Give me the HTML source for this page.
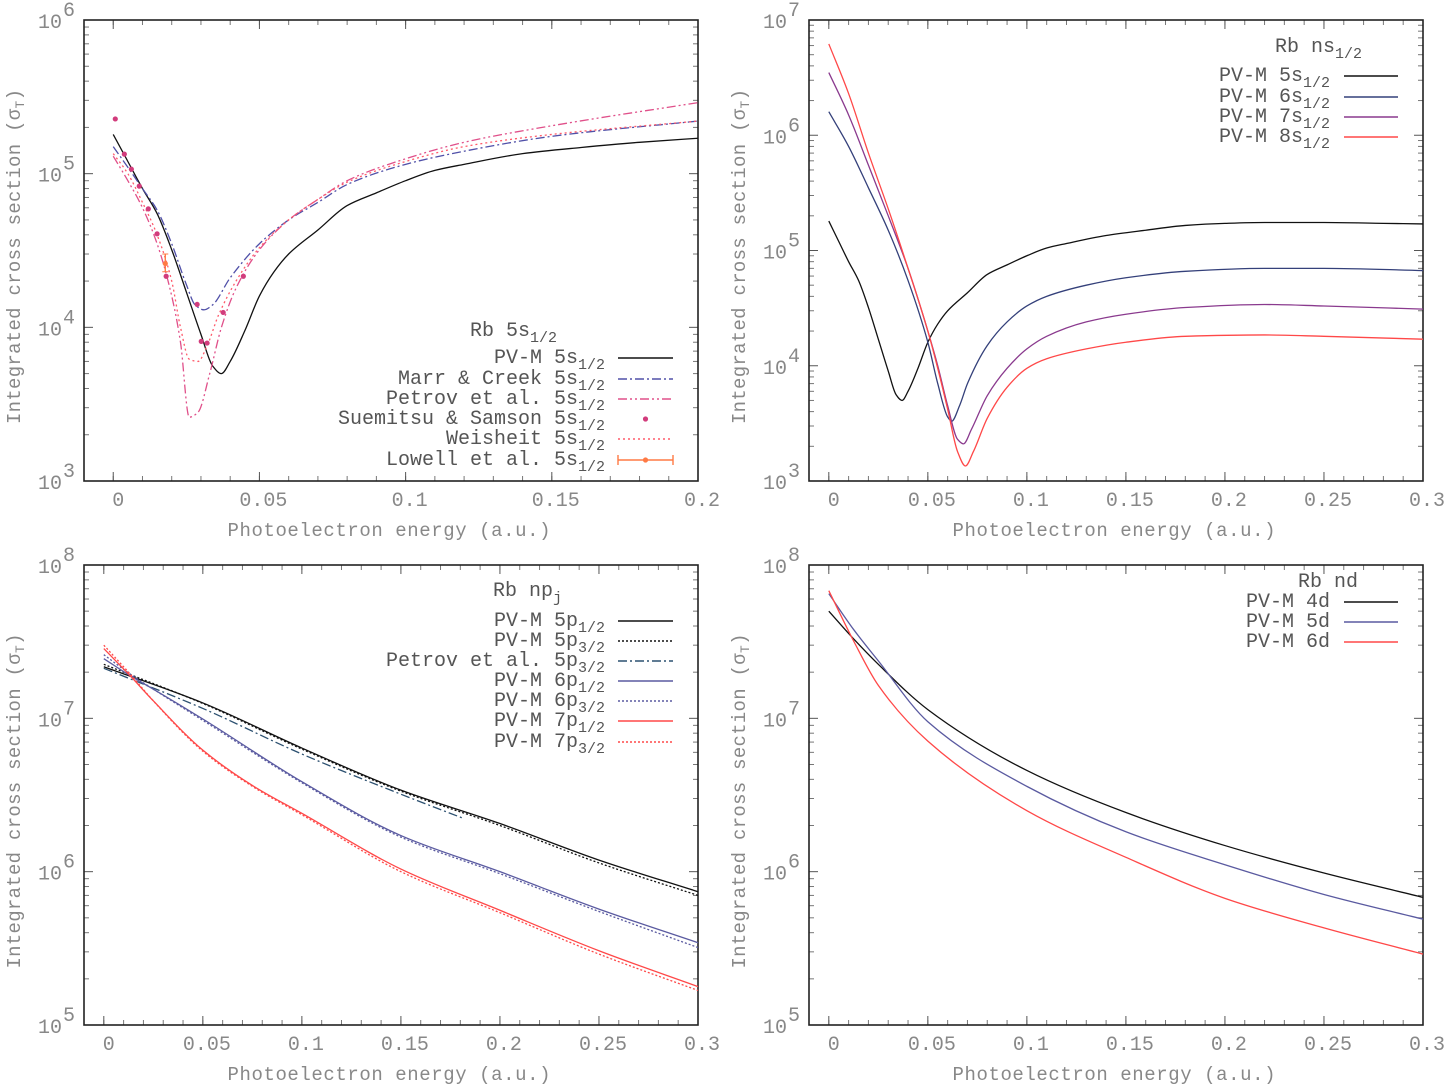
<!DOCTYPE html>
<html><head><meta charset="utf-8">
<style>
html,body{margin:0;padding:0;background:#fff;}
svg{display:block;font-family:"Liberation Mono",monospace;}
.tk{fill:#888;font-size:20px;}
.ttl{fill:#888;font-size:19px;}
.lg{fill:#555;font-size:20px;}
</style></head>
<body>
<svg id="fig" width="1452" height="1088" viewBox="0 0 1452 1088" xmlns="http://www.w3.org/2000/svg"></svg>
<script>
// ---------- Panel 1: Rb 5s1/2 ----------
const p1_pvm_x = [0,0.005,0.01,0.015,0.02,0.025,0.03,0.034,0.037,0.04,0.045,0.05,0.055,0.06,0.07,0.08,0.09,0.1,0.11,0.12,0.14,0.16,0.18,0.2];
const p1_pvm_y = [1.8e5,1.2e5,8e4,5.5e4,3.2e4,1.7e4,9e3,5.6e3,5e3,6e3,9.5e3,1.6e4,2.3e4,3e4,4.3e4,6.2e4,7.5e4,9e4,1.05e5,1.15e5,1.35e5,1.48e5,1.6e5,1.7e5];
const p1_marr_x = [0,0.005,0.01,0.015,0.02,0.025,0.028,0.031,0.034,0.04,0.05,0.06,0.07,0.08,0.1,0.12,0.15,0.2];
const p1_marr_y = [1.5e5,1.1e5,8e4,5.8e4,3.5e4,1.9e4,1.4e4,1.3e4,1.4e4,2.1e4,3.5e4,5e4,6.5e4,8.5e4,1.15e5,1.4e5,1.75e5,2.2e5];
const p1_petrov_x = [0,0.005,0.01,0.015,0.02,0.023,0.026,0.029,0.033,0.037,0.042,0.05,0.06,0.07,0.08,0.1,0.12,0.15,0.2];
const p1_petrov_y = [1.3e5,9e4,6e4,3.5e4,1.6e4,8e3,2.6e3,2.8e3,5e3,1e4,1.8e4,3.2e4,5e4,6.8e4,9e4,1.25e5,1.6e5,2.05e5,2.9e5];
const p1_weis_x = [0,0.005,0.01,0.015,0.02,0.023,0.026,0.029,0.032,0.036,0.042,0.05,0.06,0.07,0.08,0.1,0.12,0.15,0.2];
const p1_weis_y = [1.35e5,1e5,6.5e4,4e4,2e4,1e4,6.2e3,6e3,7.5e3,1.2e4,2e4,3.3e4,5e4,6.8e4,8.8e4,1.2e5,1.5e5,1.8e5,2.2e5];
const p1_sue_x = [0.0007,0.0038,0.0062,0.0089,0.012,0.015,0.0181,0.0287,0.0301,0.0321,0.0376,0.0445];
const p1_sue_y = [2.27e5,1.34e5,1.07e5,8.3e4,5.9e4,4.06e4,2.15e4,1.41e4,8.1e3,7.9e3,1.25e4,2.15e4];
const p1_low_x = [0.0178];
const p1_low_y = [2.6e4];
const p1_low_lo = [2.3e4];
const p1_low_hi = [3.0e4];
// ---------- Panel 2: Rb ns1/2 ----------
const p2_5s_x = [0,0.005,0.01,0.015,0.02,0.025,0.03,0.034,0.037,0.04,0.045,0.05,0.055,0.06,0.07,0.08,0.09,0.1,0.11,0.12,0.14,0.16,0.18,0.2,0.22,0.25,0.28,0.3];
const p2_5s_y = [1.8e5,1.2e5,8e4,5.5e4,3.2e4,1.7e4,9e3,5.6e3,5e3,6e3,9.5e3,1.6e4,2.3e4,3e4,4.3e4,6.2e4,7.5e4,9e4,1.05e5,1.15e5,1.35e5,1.5e5,1.65e5,1.72e5,1.75e5,1.75e5,1.72e5,1.7e5];
const p2_6s_x = [0,0.01,0.02,0.03,0.04,0.05,0.055,0.06,0.062,0.066,0.07,0.08,0.09,0.1,0.11,0.13,0.15,0.18,0.22,0.25,0.3];
const p2_6s_y = [1.6e6,8e5,3.5e5,1.5e5,5.5e4,1.6e4,7e3,3.6e3,3.3e3,4.5e3,7e3,1.5e4,2.4e4,3.3e4,4e4,5e4,5.8e4,6.6e4,7e4,7e4,6.7e4];
const p2_7s_x = [0,0.01,0.02,0.03,0.04,0.05,0.055,0.06,0.065,0.068,0.072,0.08,0.09,0.1,0.11,0.13,0.15,0.18,0.22,0.25,0.3];
const p2_7s_y = [3.5e6,1.5e6,5.5e5,2e5,7e4,2e4,1e4,4.5e3,2.3e3,2.1e3,2.8e3,5.5e3,9.5e3,1.4e4,1.8e4,2.4e4,2.8e4,3.2e4,3.4e4,3.3e4,3.1e4];
const p2_8s_x = [0,0.01,0.02,0.03,0.04,0.05,0.055,0.06,0.065,0.069,0.073,0.08,0.09,0.1,0.11,0.13,0.15,0.18,0.22,0.25,0.3];
const p2_8s_y = [6.2e6,2.3e6,7e5,2.3e5,7e4,2e4,9.5e3,4.2e3,1.8e3,1.35e3,1.8e3,3.5e3,6.5e3,9.5e3,1.15e4,1.4e4,1.6e4,1.8e4,1.85e4,1.8e4,1.7e4];
// ---------- Panel 3: Rb np_j ----------
const p3_x = [0,0.05,0.1,0.15,0.2,0.25,0.3];
const p3_5p1_y = [2.17e7,1.26e7,6.4e6,3.4e6,2.06e6,1.19e6,7.4e5];
const p3_5p3_y = [2.25e7,1.25e7,6.3e6,3.35e6,2.0e6,1.14e6,7.0e5];
const p3_petrov_x = [0,0.05,0.1,0.15,0.181];
const p3_petrov_y = [2.12e7,1.16e7,5.85e6,3.2e6,2.24e6];
const p3_6p_x = [0,0.0132,0.025,0.05,0.1,0.15,0.2,0.25,0.3];
const p3_6p1_y = [2.45e7,1.9e7,1.55e7,9.9e6,3.86e6,1.72e6,1.0e6,5.7e5,3.44e5];
const p3_6p3_y = [2.6e7,1.95e7,1.55e7,9.7e6,3.8e6,1.68e6,9.7e5,5.5e5,3.2e5];
const p3_7p_x = [0,0.0132,0.025,0.05,0.075,0.1,0.15,0.2,0.25,0.3];
const p3_7p1_y = [2.85e7,1.9e7,1.3e7,6.2e6,3.65e6,2.4e6,1.04e6,5.6e5,3.05e5,1.78e5];
const p3_7p3_y = [3.0e7,1.95e7,1.3e7,6.1e6,3.6e6,2.35e6,1.0e6,5.4e5,2.9e5,1.68e5];
// ---------- Panel 4: Rb nd ----------
const p4_x = [0,0.0125,0.025,0.05,0.1,0.15,0.2,0.25,0.3];
const p4_4d_y = [5e7,3.3e7,2.25e7,1.14e7,4.57e6,2.43e6,1.48e6,9.8e5,6.8e5];
const p4_5d_y = [6.5e7,3.8e7,2.37e7,9.5e6,3.6e6,1.82e6,1.11e6,7.1e5,4.9e5];
const p4_6d_y = [6.8e7,3.2e7,1.64e7,7.1e6,2.5e6,1.24e6,6.7e5,4.3e5,2.9e5];
const ticks_x1 = ["0","0.05","0.1","0.15","0.2"];
const ticks_x2 = ["0","0.05","0.1","0.15","0.2","0.25","0.3"];

const NS="http://www.w3.org/2000/svg";
const svg=document.getElementById('fig');
function mk(tag,attrs,parent){const e=document.createElementNS(NS,tag);for(const k in attrs)e.setAttribute(k,attrs[k]);(parent||svg).appendChild(e);return e;}

function makeAxes(L,R,T,B,xmin,xmax,emin,emax){
  return {
    sx:v=>L+(v-xmin)/(xmax-xmin)*(R-L),
    sy:v=>B-(Math.log10(v)-emin)/(emax-emin)*(B-T),
    L,R,T,B,xmin,xmax,emin,emax
  };
}
function smoothPath(pts){
  const n=pts.length;if(n<2)return '';
  const d=[],m=new Array(n);
  for(let i=0;i<n-1;i++)d.push((pts[i+1][1]-pts[i][1])/(pts[i+1][0]-pts[i][0]));
  m[0]=d[0];m[n-1]=d[n-2];
  for(let i=1;i<n-1;i++){
    if(d[i-1]*d[i]<=0)m[i]=0;
    else{const h0=pts[i][0]-pts[i-1][0],h1=pts[i+1][0]-pts[i][0];
      const w1=2*h1+h0,w2=h1+2*h0;m[i]=(w1+w2)/(w1/d[i-1]+w2/d[i]);}
  }
  let s='M'+pts[0][0].toFixed(2)+','+pts[0][1].toFixed(2);
  for(let i=0;i<n-1;i++){
    const h=pts[i+1][0]-pts[i][0];
    s+=' C'+(pts[i][0]+h/3).toFixed(2)+','+(pts[i][1]+m[i]*h/3).toFixed(2)+' '+(pts[i+1][0]-h/3).toFixed(2)+','+(pts[i+1][1]-m[i+1]*h/3).toFixed(2)+' '+pts[i+1][0].toFixed(2)+','+pts[i+1][1].toFixed(2);
  }
  return s;
}
function drawFrame(g,ax,xt,xstep){
  const {L,R,T,B}=ax;
  for(let e=ax.emin;e<=ax.emax;e++){
    const y=ax.sy(Math.pow(10,e));
    mk('line',{x1:L,x2:L+9,y1:y,y2:y,stroke:'#555','stroke-width':1},g);
    mk('line',{x1:R,x2:R-9,y1:y,y2:y,stroke:'#555','stroke-width':1},g);
    const t=mk('text',{x:L-22,y:y+8,'text-anchor':'end',class:'tk'},g);
    t.textContent='10';
    
    
    const s=mk('text',{x:L-21,y:y-4,class:'tk','font-size':'15'},g);
    s.textContent=String(e);
    
    
    if(e<ax.emax){for(let mm=2;mm<=9;mm++){const ym=ax.sy(mm*Math.pow(10,e));
      mk('line',{x1:L,x2:L+5,y1:ym,y2:ym,stroke:'#777','stroke-width':1},g);
      mk('line',{x1:R,x2:R-5,y1:ym,y2:ym,stroke:'#777','stroke-width':1},g);}}
  }
  for(let v=ax.xmin;v<=ax.xmax+1e-9;v+=xstep){const x=ax.sx(v);
    mk('line',{x1:x,x2:x,y1:B,y2:B-5,stroke:'#777','stroke-width':1},g);
    mk('line',{x1:x,x2:x,y1:T,y2:T+5,stroke:'#777','stroke-width':1},g);}
  xt.forEach(lbl=>{const v=parseFloat(lbl);const x=ax.sx(v);
    mk('line',{x1:x,x2:x,y1:B,y2:B-9,stroke:'#555','stroke-width':1},g);
    mk('line',{x1:x,x2:x,y1:T,y2:T+9,stroke:'#555','stroke-width':1},g);
    const t=mk('text',{x:x+(v===0?5:4),y:B+25,'text-anchor':'middle',class:'tk'},g);
    t.textContent=lbl;
    
    
  });
  mk('rect',{x:L,y:T,width:R-L,height:B-T,fill:'none',stroke:'#222','stroke-width':1.6},g);
  const xt2=mk('text',{x:(L+R)/2-2,y:B+55,'text-anchor':'middle',class:'ttl',textLength:323,lengthAdjust:'spacing'},g);
  xt2.textContent='Photoelectron energy (a.u.)';
  
  
  const yc=(T+B)/2;
  const yt=mk('text',{x:0,y:0,'text-anchor':'middle',class:'ttl',transform:`translate(${L-64},${yc+6}) rotate(-90)`},g);
  
  
  yt.setAttribute('textLength','335');
  yt.setAttribute('lengthAdjust','spacing');
  yt.innerHTML='Integrated cross section (σ<tspan font-size="13" dy="4">T</tspan><tspan dy="-4">)</tspan>';
}
function line(g,ax,xs,ys,color,dash,name,w){
  const pts=xs.map((x,i)=>[ax.sx(x),ax.sy(ys[i])]);
  const p=mk('path',{d:smoothPath(pts),fill:'none',stroke:color,'stroke-width':w||1.3},g);
  if(dash)p.setAttribute('stroke-dasharray',dash);
  
  
}
function legendTitle(g,xEnd,y,main,sub,name){
  const t=mk('text',{x:xEnd,y:y,'text-anchor':'end',class:'lg'},g);
  t.innerHTML=main+(sub?'<tspan font-size="15" dy="6">'+sub+'</tspan>':'');
  
  
}
function legendEntry(g,xEnd,y,main,sub,x1,x2,color,dash,name,kind){
  const t=mk('text',{x:xEnd,y:y+6,'text-anchor':'end',class:'lg'},g);
  t.innerHTML=main+(sub?'<tspan font-size="15" dy="6">'+sub+'</tspan>':'');
  
  
  if(kind==='dot'){const c=mk('circle',{cx:(x1+x2)/2,cy:y+1,r:2.6,fill:color},g);
    return;}
  const l=mk('line',{x1:x1,x2:x2,y1:y+1,y2:y+1,stroke:color,'stroke-width':1.4},g);
  if(dash)l.setAttribute('stroke-dasharray',dash);
  
  
  if(kind==='err'){mk('line',{x1:x1,x2:x1,y1:y-4,y2:y+6,stroke:color,'stroke-width':1.4},g);
    mk('line',{x1:x2,x2:x2,y1:y-4,y2:y+6,stroke:color,'stroke-width':1.4},g);
    mk('circle',{cx:(x1+x2)/2,cy:y+1,r:2.6,fill:color},g);}
}
const C={black:'#111',marr:'#5050a8',petrov:'#e0508a',sue:'#d23c7c',weis:'#ff5a6a',low:'#ff7a45',
  s6:'#34407a',s7:'#8a3a8e',red:'#ff4848',blue:'#5a5aa0',teal:'#2c5070'};

// Panel 1
(function(){
  const g=mk('g',{});
  const ax=makeAxes(84,698,20,481,-0.01,0.2,3,6);
  drawFrame(g,ax,ticks_x1,0.01);
  line(g,ax,p1_pvm_x,p1_pvm_y,C.black,null,'pvm-5s-line');
  line(g,ax,p1_marr_x,p1_marr_y,C.marr,'9,3,2,3','marr-creek-line');
  line(g,ax,p1_petrov_x,p1_petrov_y,C.petrov,'9,3,2,3,2,3','petrov-line');
  line(g,ax,p1_weis_x,p1_weis_y,C.weis,'2,3','weisheit-line');
  p1_sue_x.forEach((x,i)=>{const c=mk('circle',{cx:ax.sx(x),cy:ax.sy(p1_sue_y[i]),r:2.6,fill:C.sue},g);
    });
  p1_low_x.forEach((x,i)=>{const X=ax.sx(x);
    const l=mk('line',{x1:X,x2:X,y1:ax.sy(p1_low_hi[i]),y2:ax.sy(p1_low_lo[i]),stroke:C.low,'stroke-width':1.4},g);
    
    mk('line',{x1:X-3,x2:X+3,y1:ax.sy(p1_low_hi[i]),y2:ax.sy(p1_low_hi[i]),stroke:C.low},g);
    mk('line',{x1:X-3,x2:X+3,y1:ax.sy(p1_low_lo[i]),y2:ax.sy(p1_low_lo[i]),stroke:C.low},g);
    const c=mk('circle',{cx:X,cy:ax.sy(p1_low_y[i]),r:2.6,fill:C.low},g);
    });
  legendTitle(g,557,336,'Rb 5s','1/2','legend-title');
  const ys=[357,378,398,418,438,459];
  legendEntry(g,605,ys[0],'PV-M 5s','1/2',618,673,C.black,null,'legend-pvm');
  legendEntry(g,605,ys[1],'Marr &amp; Creek 5s','1/2',618,673,C.marr,'9,3,2,3','legend-marr');
  legendEntry(g,605,ys[2],'Petrov et al. 5s','1/2',618,673,C.petrov,'9,3,2,3,2,3','legend-petrov');
  legendEntry(g,605,ys[3],'Suemitsu &amp; Samson 5s','1/2',618,673,C.sue,null,'legend-suemitsu','dot');
  legendEntry(g,605,ys[4],'Weisheit 5s','1/2',618,673,C.weis,'2,3','legend-weisheit');
  legendEntry(g,605,ys[5],'Lowell et al. 5s','1/2',618,673,C.low,null,'legend-lowell','err');
})();
// Panel 2
(function(){
  const g=mk('g',{});
  const ax=makeAxes(809,1423,20,481,-0.01,0.3,3,7);
  drawFrame(g,ax,ticks_x2,0.01);
  line(g,ax,p2_5s_x,p2_5s_y,C.black,null,'pvm-5s-line');
  line(g,ax,p2_6s_x,p2_6s_y,C.s6,null,'pvm-6s-line');
  line(g,ax,p2_7s_x,p2_7s_y,C.s7,null,'pvm-7s-line');
  line(g,ax,p2_8s_x,p2_8s_y,C.red,null,'pvm-8s-line');
  legendTitle(g,1362,52,'Rb ns','1/2','legend-title');
  const ys=[75,96,116,136];
  legendEntry(g,1330,ys[0],'PV-M 5s','1/2',1344,1398,C.black,null,'legend-5s');
  legendEntry(g,1330,ys[1],'PV-M 6s','1/2',1344,1398,C.s6,null,'legend-6s');
  legendEntry(g,1330,ys[2],'PV-M 7s','1/2',1344,1398,C.s7,null,'legend-7s');
  legendEntry(g,1330,ys[3],'PV-M 8s','1/2',1344,1398,C.red,null,'legend-8s');
})();
// Panel 3
(function(){
  const g=mk('g',{});
  const ax=makeAxes(84,698,565,1025,-0.01,0.3,5,8);
  drawFrame(g,ax,ticks_x2,0.01);
  line(g,ax,p3_x,p3_5p1_y,C.black,null,'pvm-5p12-line');
  line(g,ax,p3_x,p3_5p3_y,C.black,'2,2','pvm-5p32-line');
  line(g,ax,p3_petrov_x,p3_petrov_y,C.teal,'9,3,2,3','petrov-5p32-line');
  line(g,ax,p3_6p_x,p3_6p1_y,C.blue,null,'pvm-6p12-line');
  line(g,ax,p3_6p_x,p3_6p3_y,C.blue,'2,2','pvm-6p32-line');
  line(g,ax,p3_7p_x,p3_7p1_y,C.red,null,'pvm-7p12-line');
  line(g,ax,p3_7p_x,p3_7p3_y,C.red,'2,2','pvm-7p32-line');
  legendTitle(g,562,596,'Rb np','j','legend-title');
  const ys=[620,640,660,680,700,720,741];
  legendEntry(g,605,ys[0],'PV-M 5p','1/2',618,673,C.black,null,'legend-5p12');
  legendEntry(g,605,ys[1],'PV-M 5p','3/2',618,673,C.black,'2,2','legend-5p32');
  legendEntry(g,605,ys[2],'Petrov et al. 5p','3/2',618,673,C.teal,'9,3,2,3','legend-petrov');
  legendEntry(g,605,ys[3],'PV-M 6p','1/2',618,673,C.blue,null,'legend-6p12');
  legendEntry(g,605,ys[4],'PV-M 6p','3/2',618,673,C.blue,'2,2','legend-6p32');
  legendEntry(g,605,ys[5],'PV-M 7p','1/2',618,673,C.red,null,'legend-7p12');
  legendEntry(g,605,ys[6],'PV-M 7p','3/2',618,673,C.red,'2,2','legend-7p32');
})();
// Panel 4
(function(){
  const g=mk('g',{});
  const ax=makeAxes(809,1423,565,1025,-0.01,0.3,5,8);
  drawFrame(g,ax,ticks_x2,0.01);
  line(g,ax,p4_x,p4_4d_y,C.black,null,'pvm-4d-line');
  line(g,ax,p4_x,p4_5d_y,C.blue,null,'pvm-5d-line');
  line(g,ax,p4_x,p4_6d_y,C.red,null,'pvm-6d-line');
  legendTitle(g,1358,587,'Rb nd','','legend-title');
  const ys=[601,621,641];
  legendEntry(g,1330,ys[0],'PV-M 4d','',1344,1398,C.black,null,'legend-4d');
  legendEntry(g,1330,ys[1],'PV-M 5d','',1344,1398,C.blue,null,'legend-5d');
  legendEntry(g,1330,ys[2],'PV-M 6d','',1344,1398,C.red,null,'legend-6d');
})();
</script>
</body></html>
